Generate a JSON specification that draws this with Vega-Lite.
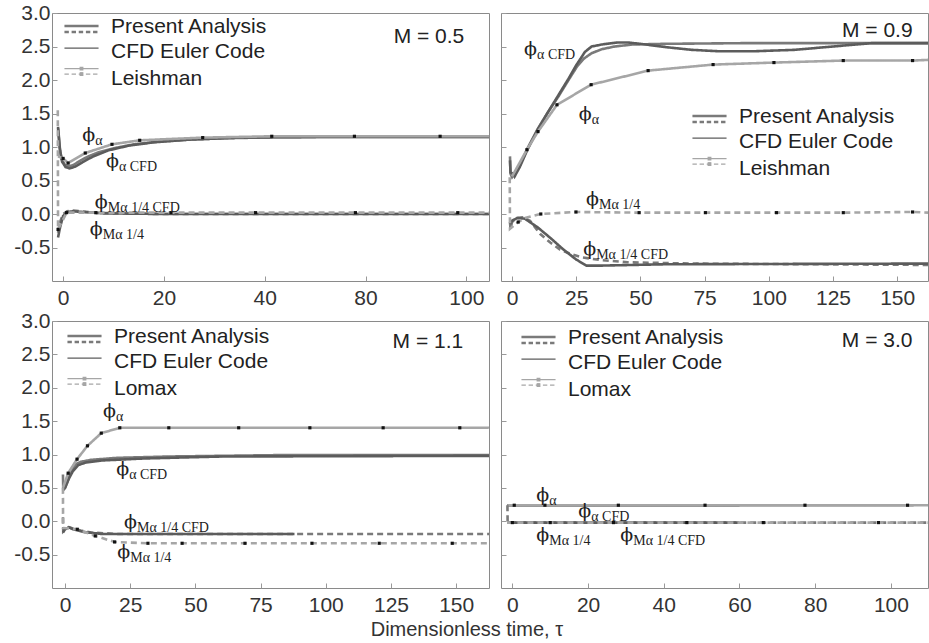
{
"$schema": "https://vega.github.io/schema/vega-lite/v6.json",
"padding": {"left": 13, "top": 1, "right": 0, "bottom": 0},
"background": "#ffffff",
"config": {
  "axis": {"labelFont": "Liberation Sans", "labelFontSize": 21, "labelColor": "#333333", "tickColor": "#999999", "domain": false, "grid": false, "tickSize": -5, "labelOverlap": false, "labelBound": false, "labelFlush": false, "labelSeparation": 0},
  "axisX": {"labelPadding": 11},
  "axisY": {"labelPadding": 7},
  "view": {"stroke": "#8a8a8a", "strokeWidth": 1},
  "legend": {"labelFont": "Liberation Sans", "labelFontSize": 21, "labelColor": "#222222", "symbolSize": 484, "symbolOffset": 6, "labelOffset": 19, "rowPadding": 2, "padding": 0, "orient": "none"},
  "title": {"font": "Liberation Sans", "fontSize": 20, "fontWeight": "normal", "color": "#333333"}
},
"title": {"text": "Dimensionless time, τ", "orient": "bottom", "anchor": "middle", "offset": 4, "dx": -4},
"datasets": {
"curves": [
{"p":1,"s":"PA_a","src":"Present Analysis","t":-1,"v":1.28},{"p":1,"s":"PA_a","src":"Present Analysis","t":-0.7,"v":1.0},{"p":1,"s":"PA_a","src":"Present Analysis","t":-0.3,"v":0.82},{"p":1,"s":"PA_a","src":"Present Analysis","t":0.3,"v":0.74},{"p":1,"s":"PA_a","src":"Present Analysis","t":1,"v":0.71},{"p":1,"s":"PA_a","src":"Present Analysis","t":2,"v":0.73},{"p":1,"s":"PA_a","src":"Present Analysis","t":3.5,"v":0.8},{"p":1,"s":"PA_a","src":"Present Analysis","t":5,"v":0.86},{"p":1,"s":"PA_a","src":"Present Analysis","t":7,"v":0.92},{"p":1,"s":"PA_a","src":"Present Analysis","t":10,"v":0.98},{"p":1,"s":"PA_a","src":"Present Analysis","t":14,"v":1.04},{"p":1,"s":"PA_a","src":"Present Analysis","t":19,"v":1.08},{"p":1,"s":"PA_a","src":"Present Analysis","t":25,"v":1.11},{"p":1,"s":"PA_a","src":"Present Analysis","t":32,"v":1.13},{"p":1,"s":"PA_a","src":"Present Analysis","t":42,"v":1.145},{"p":1,"s":"PA_a","src":"Present Analysis","t":55,"v":1.15},{"p":1,"s":"PA_a","src":"Present Analysis","t":84.5,"v":1.15},
{"p":1,"s":"CFD_a","src":"CFD Euler Code","t":-1,"v":1.3},{"p":1,"s":"CFD_a","src":"CFD Euler Code","t":-0.6,"v":0.95},{"p":1,"s":"CFD_a","src":"CFD Euler Code","t":-0.2,"v":0.78},{"p":1,"s":"CFD_a","src":"CFD Euler Code","t":0.5,"v":0.7},{"p":1,"s":"CFD_a","src":"CFD Euler Code","t":1.3,"v":0.68},{"p":1,"s":"CFD_a","src":"CFD Euler Code","t":2.5,"v":0.71},{"p":1,"s":"CFD_a","src":"CFD Euler Code","t":4,"v":0.78},{"p":1,"s":"CFD_a","src":"CFD Euler Code","t":6,"v":0.86},{"p":1,"s":"CFD_a","src":"CFD Euler Code","t":9,"v":0.95},{"p":1,"s":"CFD_a","src":"CFD Euler Code","t":13,"v":1.02},{"p":1,"s":"CFD_a","src":"CFD Euler Code","t":18,"v":1.07},{"p":1,"s":"CFD_a","src":"CFD Euler Code","t":25,"v":1.11},{"p":1,"s":"CFD_a","src":"CFD Euler Code","t":35,"v":1.14},{"p":1,"s":"CFD_a","src":"CFD Euler Code","t":50,"v":1.15},{"p":1,"s":"CFD_a","src":"CFD Euler Code","t":84.5,"v":1.15},
{"p":1,"s":"L_a","src":"Leishman","t":-1,"v":0.86},{"p":1,"s":"L_a","src":"Leishman","t":0,"v":0.83},{"p":1,"s":"L_a","src":"Leishman","t":1,"v":0.76},{"p":1,"s":"L_a","src":"Leishman","t":4.4,"v":0.91},{"p":1,"s":"L_a","src":"Leishman","t":9.7,"v":1.04},{"p":1,"s":"L_a","src":"Leishman","t":15.2,"v":1.1},{"p":1,"s":"L_a","src":"Leishman","t":27.7,"v":1.14},{"p":1,"s":"L_a","src":"Leishman","t":41.4,"v":1.16},{"p":1,"s":"L_a","src":"Leishman","t":57.8,"v":1.16},{"p":1,"s":"L_a","src":"Leishman","t":74.8,"v":1.16},{"p":1,"s":"L_a","src":"Leishman","t":84.5,"v":1.16},
{"p":1,"s":"PA_m","src":"Present Analysis","t":-1,"v":-0.28},{"p":1,"s":"PA_m","src":"Present Analysis","t":-0.6,"v":-0.12},{"p":1,"s":"PA_m","src":"Present Analysis","t":0,"v":0.0},{"p":1,"s":"PA_m","src":"Present Analysis","t":0.8,"v":0.04},{"p":1,"s":"PA_m","src":"Present Analysis","t":2,"v":0.05},{"p":1,"s":"PA_m","src":"Present Analysis","t":3.5,"v":0.04},{"p":1,"s":"PA_m","src":"Present Analysis","t":6,"v":0.02},{"p":1,"s":"PA_m","src":"Present Analysis","t":10,"v":0.01},{"p":1,"s":"PA_m","src":"Present Analysis","t":20,"v":0.0},{"p":1,"s":"PA_m","src":"Present Analysis","t":84.5,"v":0.0},
{"p":1,"s":"CFD_m","src":"CFD Euler Code","t":-1,"v":-0.35},{"p":1,"s":"CFD_m","src":"CFD Euler Code","t":-0.6,"v":-0.2},{"p":1,"s":"CFD_m","src":"CFD Euler Code","t":0,"v":-0.03},{"p":1,"s":"CFD_m","src":"CFD Euler Code","t":0.8,"v":0.03},{"p":1,"s":"CFD_m","src":"CFD Euler Code","t":2,"v":0.04},{"p":1,"s":"CFD_m","src":"CFD Euler Code","t":4,"v":0.03},{"p":1,"s":"CFD_m","src":"CFD Euler Code","t":8,"v":0.01},{"p":1,"s":"CFD_m","src":"CFD Euler Code","t":20,"v":0.0},{"p":1,"s":"CFD_m","src":"CFD Euler Code","t":84.5,"v":0.0},
{"p":1,"s":"L_m","src":"Leishman","t":-1.05,"v":1.55},{"p":1,"s":"L_m","src":"Leishman","t":-1,"v":-0.23},{"p":1,"s":"L_m","src":"Leishman","t":0.7,"v":0.02},{"p":1,"s":"L_m","src":"Leishman","t":6.5,"v":0.02},{"p":1,"s":"L_m","src":"Leishman","t":21.4,"v":0.02},{"p":1,"s":"L_m","src":"Leishman","t":38.2,"v":0.02},{"p":1,"s":"L_m","src":"Leishman","t":58,"v":0.02},{"p":1,"s":"L_m","src":"Leishman","t":78.3,"v":0.02},{"p":1,"s":"L_m","src":"Leishman","t":84.5,"v":0.02},

{"p":2,"s":"PA_a","src":"Present Analysis","t":-0.8,"v":0.86},{"p":2,"s":"PA_a","src":"Present Analysis","t":-0.6,"v":0.6},{"p":2,"s":"PA_a","src":"Present Analysis","t":0,"v":0.55},{"p":2,"s":"PA_a","src":"Present Analysis","t":3,"v":0.72},{"p":2,"s":"PA_a","src":"Present Analysis","t":6,"v":0.98},{"p":2,"s":"PA_a","src":"Present Analysis","t":10,"v":1.27},{"p":2,"s":"PA_a","src":"Present Analysis","t":14,"v":1.52},{"p":2,"s":"PA_a","src":"Present Analysis","t":18,"v":1.75},{"p":2,"s":"PA_a","src":"Present Analysis","t":22,"v":2.0},{"p":2,"s":"PA_a","src":"Present Analysis","t":25.3,"v":2.2},{"p":2,"s":"PA_a","src":"Present Analysis","t":28,"v":2.32},{"p":2,"s":"PA_a","src":"Present Analysis","t":31,"v":2.4},{"p":2,"s":"PA_a","src":"Present Analysis","t":35,"v":2.46},{"p":2,"s":"PA_a","src":"Present Analysis","t":40,"v":2.5},{"p":2,"s":"PA_a","src":"Present Analysis","t":47,"v":2.53},{"p":2,"s":"PA_a","src":"Present Analysis","t":60,"v":2.54},{"p":2,"s":"PA_a","src":"Present Analysis","t":90,"v":2.55},{"p":2,"s":"PA_a","src":"Present Analysis","t":162,"v":2.55},
{"p":2,"s":"CFD_a","src":"CFD Euler Code","t":-0.8,"v":0.8},{"p":2,"s":"CFD_a","src":"CFD Euler Code","t":-0.6,"v":0.62},{"p":2,"s":"CFD_a","src":"CFD Euler Code","t":0.5,"v":0.6},{"p":2,"s":"CFD_a","src":"CFD Euler Code","t":1,"v":0.56},{"p":2,"s":"CFD_a","src":"CFD Euler Code","t":3,"v":0.7},{"p":2,"s":"CFD_a","src":"CFD Euler Code","t":6,"v":0.96},{"p":2,"s":"CFD_a","src":"CFD Euler Code","t":10,"v":1.26},{"p":2,"s":"CFD_a","src":"CFD Euler Code","t":14,"v":1.52},{"p":2,"s":"CFD_a","src":"CFD Euler Code","t":18,"v":1.77},{"p":2,"s":"CFD_a","src":"CFD Euler Code","t":22,"v":2.02},{"p":2,"s":"CFD_a","src":"CFD Euler Code","t":25,"v":2.22},{"p":2,"s":"CFD_a","src":"CFD Euler Code","t":28.4,"v":2.42},{"p":2,"s":"CFD_a","src":"CFD Euler Code","t":31,"v":2.5},{"p":2,"s":"CFD_a","src":"CFD Euler Code","t":35,"v":2.53},{"p":2,"s":"CFD_a","src":"CFD Euler Code","t":41,"v":2.56},{"p":2,"s":"CFD_a","src":"CFD Euler Code","t":45,"v":2.56},{"p":2,"s":"CFD_a","src":"CFD Euler Code","t":50,"v":2.54},{"p":2,"s":"CFD_a","src":"CFD Euler Code","t":60,"v":2.49},{"p":2,"s":"CFD_a","src":"CFD Euler Code","t":70,"v":2.45},{"p":2,"s":"CFD_a","src":"CFD Euler Code","t":80,"v":2.43},{"p":2,"s":"CFD_a","src":"CFD Euler Code","t":95,"v":2.43},{"p":2,"s":"CFD_a","src":"CFD Euler Code","t":110,"v":2.45},{"p":2,"s":"CFD_a","src":"CFD Euler Code","t":125,"v":2.5},{"p":2,"s":"CFD_a","src":"CFD Euler Code","t":140,"v":2.55},{"p":2,"s":"CFD_a","src":"CFD Euler Code","t":162,"v":2.55},
{"p":2,"s":"L_a","src":"Leishman","t":0,"v":0.56},{"p":2,"s":"L_a","src":"Leishman","t":5.8,"v":0.96},{"p":2,"s":"L_a","src":"Leishman","t":10.1,"v":1.23},{"p":2,"s":"L_a","src":"Leishman","t":17.5,"v":1.63},{"p":2,"s":"L_a","src":"Leishman","t":30.8,"v":1.93},{"p":2,"s":"L_a","src":"Leishman","t":53,"v":2.14},{"p":2,"s":"L_a","src":"Leishman","t":78.3,"v":2.23},{"p":2,"s":"L_a","src":"Leishman","t":102,"v":2.26},{"p":2,"s":"L_a","src":"Leishman","t":129,"v":2.29},{"p":2,"s":"L_a","src":"Leishman","t":156,"v":2.29},{"p":2,"s":"L_a","src":"Leishman","t":162,"v":2.3},
{"p":2,"s":"PA_m","src":"Present Analysis","t":-0.8,"v":-0.12},{"p":2,"s":"PA_m","src":"Present Analysis","t":-0.6,"v":-0.22},{"p":2,"s":"PA_m","src":"Present Analysis","t":0,"v":-0.12},{"p":2,"s":"PA_m","src":"Present Analysis","t":2,"v":-0.06},{"p":2,"s":"PA_m","src":"Present Analysis","t":4,"v":-0.05},{"p":2,"s":"PA_m","src":"Present Analysis","t":7,"v":-0.1},{"p":2,"s":"PA_m","src":"Present Analysis","t":11,"v":-0.3},{"p":2,"s":"PA_m","src":"Present Analysis","t":15,"v":-0.43},{"p":2,"s":"PA_m","src":"Present Analysis","t":18.7,"v":-0.53},{"p":2,"s":"PA_m","src":"Present Analysis","t":23,"v":-0.6},{"p":2,"s":"PA_m","src":"Present Analysis","t":27.6,"v":-0.65},{"p":2,"s":"PA_m","src":"Present Analysis","t":35,"v":-0.69},{"p":2,"s":"PA_m","src":"Present Analysis","t":45,"v":-0.72},{"p":2,"s":"PA_m","src":"Present Analysis","t":70,"v":-0.74},{"p":2,"s":"PA_m","src":"Present Analysis","t":162,"v":-0.76},
{"p":2,"s":"CFD_m","src":"CFD Euler Code","t":-0.8,"v":-0.15},{"p":2,"s":"CFD_m","src":"CFD Euler Code","t":0,"v":-0.1},{"p":2,"s":"CFD_m","src":"CFD Euler Code","t":2,"v":-0.06},{"p":2,"s":"CFD_m","src":"CFD Euler Code","t":5,"v":-0.07},{"p":2,"s":"CFD_m","src":"CFD Euler Code","t":10,"v":-0.2},{"p":2,"s":"CFD_m","src":"CFD Euler Code","t":15,"v":-0.36},{"p":2,"s":"CFD_m","src":"CFD Euler Code","t":20,"v":-0.53},{"p":2,"s":"CFD_m","src":"CFD Euler Code","t":25,"v":-0.68},{"p":2,"s":"CFD_m","src":"CFD Euler Code","t":29,"v":-0.77},{"p":2,"s":"CFD_m","src":"CFD Euler Code","t":35,"v":-0.77},{"p":2,"s":"CFD_m","src":"CFD Euler Code","t":60,"v":-0.75},{"p":2,"s":"CFD_m","src":"CFD Euler Code","t":162,"v":-0.74},
{"p":2,"s":"L_m","src":"Leishman","t":-0.9,"v":0.55},{"p":2,"s":"L_m","src":"Leishman","t":-0.8,"v":-0.22},{"p":2,"s":"L_m","src":"Leishman","t":2.4,"v":-0.12},{"p":2,"s":"L_m","src":"Leishman","t":5,"v":-0.06},{"p":2,"s":"L_m","src":"Leishman","t":11.2,"v":0.0},{"p":2,"s":"L_m","src":"Leishman","t":24.9,"v":0.03},{"p":2,"s":"L_m","src":"Leishman","t":49.5,"v":0.02},{"p":2,"s":"L_m","src":"Leishman","t":75.3,"v":0.02},{"p":2,"s":"L_m","src":"Leishman","t":103,"v":0.02},{"p":2,"s":"L_m","src":"Leishman","t":129,"v":0.02},{"p":2,"s":"L_m","src":"Leishman","t":156,"v":0.03},{"p":2,"s":"L_m","src":"Leishman","t":162,"v":0.02},

{"p":3,"s":"PA_a","src":"Present Analysis","t":-0.8,"v":0.7},{"p":3,"s":"PA_a","src":"Present Analysis","t":-0.7,"v":0.49},{"p":3,"s":"PA_a","src":"Present Analysis","t":0,"v":0.5},{"p":3,"s":"PA_a","src":"Present Analysis","t":1,"v":0.6},{"p":3,"s":"PA_a","src":"Present Analysis","t":2.4,"v":0.76},{"p":3,"s":"PA_a","src":"Present Analysis","t":4,"v":0.85},{"p":3,"s":"PA_a","src":"Present Analysis","t":6,"v":0.89},{"p":3,"s":"PA_a","src":"Present Analysis","t":10,"v":0.92},{"p":3,"s":"PA_a","src":"Present Analysis","t":20,"v":0.95},{"p":3,"s":"PA_a","src":"Present Analysis","t":40,"v":0.97},{"p":3,"s":"PA_a","src":"Present Analysis","t":80,"v":0.99},{"p":3,"s":"PA_a","src":"Present Analysis","t":162.6,"v":0.99},
{"p":3,"s":"CFD_a","src":"CFD Euler Code","t":-0.8,"v":0.46},{"p":3,"s":"CFD_a","src":"CFD Euler Code","t":0,"v":0.5},{"p":3,"s":"CFD_a","src":"CFD Euler Code","t":1.5,"v":0.64},{"p":3,"s":"CFD_a","src":"CFD Euler Code","t":3,"v":0.75},{"p":3,"s":"CFD_a","src":"CFD Euler Code","t":5,"v":0.84},{"p":3,"s":"CFD_a","src":"CFD Euler Code","t":8,"v":0.88},{"p":3,"s":"CFD_a","src":"CFD Euler Code","t":14,"v":0.91},{"p":3,"s":"CFD_a","src":"CFD Euler Code","t":30,"v":0.94},{"p":3,"s":"CFD_a","src":"CFD Euler Code","t":60,"v":0.97},{"p":3,"s":"CFD_a","src":"CFD Euler Code","t":162.6,"v":0.98},
{"p":3,"s":"L_a","src":"Lomax","t":-0.8,"v":0.5},{"p":3,"s":"L_a","src":"Lomax","t":1.2,"v":0.72},{"p":3,"s":"L_a","src":"Lomax","t":4.6,"v":0.93},{"p":3,"s":"L_a","src":"Lomax","t":8.6,"v":1.13},{"p":3,"s":"L_a","src":"Lomax","t":13.9,"v":1.32},{"p":3,"s":"L_a","src":"Lomax","t":21,"v":1.4},{"p":3,"s":"L_a","src":"Lomax","t":39.8,"v":1.4},{"p":3,"s":"L_a","src":"Lomax","t":66.6,"v":1.4},{"p":3,"s":"L_a","src":"Lomax","t":93.9,"v":1.4},{"p":3,"s":"L_a","src":"Lomax","t":122,"v":1.4},{"p":3,"s":"L_a","src":"Lomax","t":151.4,"v":1.4},{"p":3,"s":"L_a","src":"Lomax","t":162.6,"v":1.4},
{"p":3,"s":"PA_m","src":"Present Analysis","t":-0.8,"v":0.06},{"p":3,"s":"PA_m","src":"Present Analysis","t":-0.7,"v":-0.15},{"p":3,"s":"PA_m","src":"Present Analysis","t":0,"v":-0.12},{"p":3,"s":"PA_m","src":"Present Analysis","t":1.5,"v":-0.09},{"p":3,"s":"PA_m","src":"Present Analysis","t":3,"v":-0.11},{"p":3,"s":"PA_m","src":"Present Analysis","t":6,"v":-0.14},{"p":3,"s":"PA_m","src":"Present Analysis","t":10,"v":-0.17},{"p":3,"s":"PA_m","src":"Present Analysis","t":20,"v":-0.19},{"p":3,"s":"PA_m","src":"Present Analysis","t":162.6,"v":-0.19},
{"p":3,"s":"CFD_m","src":"CFD Euler Code","t":-0.8,"v":-0.17},{"p":3,"s":"CFD_m","src":"CFD Euler Code","t":0,"v":-0.12},{"p":3,"s":"CFD_m","src":"CFD Euler Code","t":1.5,"v":-0.09},{"p":3,"s":"CFD_m","src":"CFD Euler Code","t":3,"v":-0.12},{"p":3,"s":"CFD_m","src":"CFD Euler Code","t":7,"v":-0.16},{"p":3,"s":"CFD_m","src":"CFD Euler Code","t":14,"v":-0.19},{"p":3,"s":"CFD_m","src":"CFD Euler Code","t":30,"v":-0.19},{"p":3,"s":"CFD_m","src":"CFD Euler Code","t":88,"v":-0.19},
{"p":3,"s":"L_m","src":"Lomax","t":-0.8,"v":0.5},{"p":3,"s":"L_m","src":"Lomax","t":-0.75,"v":-0.1},{"p":3,"s":"L_m","src":"Lomax","t":4.7,"v":-0.12},{"p":3,"s":"L_m","src":"Lomax","t":11.6,"v":-0.22},{"p":3,"s":"L_m","src":"Lomax","t":19,"v":-0.31},{"p":3,"s":"L_m","src":"Lomax","t":31.8,"v":-0.33},{"p":3,"s":"L_m","src":"Lomax","t":44.9,"v":-0.33},{"p":3,"s":"L_m","src":"Lomax","t":69,"v":-0.33},{"p":3,"s":"L_m","src":"Lomax","t":94.7,"v":-0.33},{"p":3,"s":"L_m","src":"Lomax","t":120.5,"v":-0.33},{"p":3,"s":"L_m","src":"Lomax","t":148.5,"v":-0.33},{"p":3,"s":"L_m","src":"Lomax","t":162.6,"v":-0.33},

{"p":4,"s":"PA_a","src":"Present Analysis","t":-1.3,"v":0.24},{"p":4,"s":"PA_a","src":"Present Analysis","t":106,"v":0.24},
{"p":4,"s":"CFD_a","src":"CFD Euler Code","t":-1.3,"v":0.24},{"p":4,"s":"CFD_a","src":"CFD Euler Code","t":60,"v":0.24},
{"p":4,"s":"L_a","src":"Lomax","t":-1.3,"v":0.24},{"p":4,"s":"L_a","src":"Lomax","t":109.8,"v":0.24},
{"p":4,"s":"PA_m","src":"Present Analysis","t":-1.3,"v":0.24},{"p":4,"s":"PA_m","src":"Present Analysis","t":-1.25,"v":-0.02},{"p":4,"s":"PA_m","src":"Present Analysis","t":109.8,"v":-0.02},
{"p":4,"s":"CFD_m","src":"CFD Euler Code","t":-1.3,"v":-0.02},{"p":4,"s":"CFD_m","src":"CFD Euler Code","t":60,"v":-0.02},
{"p":4,"s":"L_m","src":"Lomax","t":-1.3,"v":-0.02},{"p":4,"s":"L_m","src":"Lomax","t":109.8,"v":-0.02}
],
"pts": [
{"p":1,"t":0,"v":0.83},{"p":1,"t":1,"v":0.76},{"p":1,"t":4.4,"v":0.91},{"p":1,"t":9.7,"v":1.04},{"p":1,"t":15.2,"v":1.1},{"p":1,"t":27.7,"v":1.14},{"p":1,"t":41.4,"v":1.16},{"p":1,"t":57.8,"v":1.16},{"p":1,"t":74.8,"v":1.16},
{"p":1,"t":-1,"v":-0.23},{"p":1,"t":0.7,"v":0.02},{"p":1,"t":6.5,"v":0.02},{"p":1,"t":21.4,"v":0.02},{"p":1,"t":38.2,"v":0.02},{"p":1,"t":58,"v":0.02},{"p":1,"t":78.3,"v":0.02},
{"p":2,"t":5.8,"v":0.96},{"p":2,"t":10.1,"v":1.23},{"p":2,"t":17.5,"v":1.63},{"p":2,"t":30.8,"v":1.93},{"p":2,"t":53,"v":2.14},{"p":2,"t":78.3,"v":2.23},{"p":2,"t":102,"v":2.26},{"p":2,"t":129,"v":2.29},{"p":2,"t":156,"v":2.29},
{"p":2,"t":2.4,"v":-0.12},{"p":2,"t":11.2,"v":0.0},{"p":2,"t":24.9,"v":0.03},{"p":2,"t":49.5,"v":0.02},{"p":2,"t":75.3,"v":0.02},{"p":2,"t":103,"v":0.02},{"p":2,"t":129,"v":0.02},{"p":2,"t":156,"v":0.03},
{"p":3,"t":1.2,"v":0.72},{"p":3,"t":4.6,"v":0.93},{"p":3,"t":8.6,"v":1.13},{"p":3,"t":13.9,"v":1.32},{"p":3,"t":21,"v":1.4},{"p":3,"t":39.8,"v":1.4},{"p":3,"t":66.6,"v":1.4},{"p":3,"t":93.9,"v":1.4},{"p":3,"t":122,"v":1.4},{"p":3,"t":151.4,"v":1.4},
{"p":3,"t":4.7,"v":-0.12},{"p":3,"t":11.6,"v":-0.22},{"p":3,"t":19,"v":-0.31},{"p":3,"t":31.8,"v":-0.33},{"p":3,"t":44.9,"v":-0.33},{"p":3,"t":69,"v":-0.33},{"p":3,"t":94.7,"v":-0.33},{"p":3,"t":120.5,"v":-0.33},{"p":3,"t":148.5,"v":-0.33},
{"p":4,"t":0.5,"v":0.24},{"p":4,"t":8.6,"v":0.24},{"p":4,"t":28,"v":0.24},{"p":4,"t":50.9,"v":0.24},{"p":4,"t":77.3,"v":0.24},{"p":4,"t":104.4,"v":0.24},
{"p":4,"t":0,"v":-0.02},{"p":4,"t":10,"v":-0.02},{"p":4,"t":26.7,"v":-0.02},{"p":4,"t":46.1,"v":-0.02},{"p":4,"t":66.3,"v":-0.02},{"p":4,"t":96.7,"v":-0.02}
],
"ann": [
{"p":1,"t":3.8,"v":1.18,"sub":"α"},{"p":1,"t":8.5,"v":0.79,"sub":"α CFD"},{"p":1,"t":6.3,"v":0.18,"sub":"Mα 1/4 CFD"},{"p":1,"t":5.3,"v":-0.22,"sub":"Mα 1/4"},
{"p":2,"t":4.7,"v":2.47,"sub":"α CFD"},{"p":2,"t":26,"v":1.5,"sub":"α"},{"p":2,"t":28.8,"v":0.23,"sub":"Mα 1/4"},{"p":2,"t":27.7,"v":-0.52,"sub":"Mα 1/4 CFD"},
{"p":3,"t":14.6,"v":1.65,"sub":"α"},{"p":3,"t":19.6,"v":0.79,"sub":"α CFD"},{"p":3,"t":22.6,"v":-0.01,"sub":"Mα 1/4 CFD"},{"p":3,"t":20,"v":-0.46,"sub":"Mα 1/4"},
{"p":4,"t":6.3,"v":0.4,"sub":"α"},{"p":4,"t":17.4,"v":0.16,"sub":"α CFD"},{"p":4,"t":6.3,"v":-0.21,"sub":"Mα 1/4"},{"p":4,"t":28.5,"v":-0.21,"sub":"Mα 1/4 CFD"}
],
"ttl": [
{"p":1,"t":79.6,"v":2.64,"label":"M = 0.5"},{"p":2,"t":156,"v":2.73,"label":"M = 0.9"},{"p":3,"t":152.7,"v":2.68,"label":"M = 1.1"},{"p":4,"t":105.7,"v":2.7,"label":"M = 3.0"}
]
},
"concat": [
{"width": 437, "height": 268,
 "encoding": {
  "x": {"field": "t", "type": "quantitative", "scale": {"domain": [-2.2, 84.5], "nice": false, "zero": false}, "axis": {"title": null, "values": [0,20,40,60,80], "labelExpr": "datum.value == 60 ? '80' : datum.value == 80 ? '100' : datum.label"}},
  "y": {"field": "v", "type": "quantitative", "scale": {"domain": [-1, 3], "nice": false, "zero": false}, "axis": {"title": null, "values": [-0.5,0,0.5,1,1.5,2,2.5,3], "labelExpr": "datum.value == -0.5 ? '-0.5' : datum.value == 0 ? '0.0' : datum.value == 1 ? '1.0' : datum.value == 2 ? '2.0' : datum.value == 3 ? '3.0' : datum.label"}}
 },
 "layer": [
  {"data": {"name": "curves"}, "transform": [{"filter": "datum.p == 1"}], "mark": {"type": "line", "clip": true, "strokeCap": "butt"},
   "encoding": {
    "color": {"field": "src", "type": "nominal", "scale": {"domain": ["Present Analysis","CFD Euler Code","Leishman"], "range": ["#7a7a7a","#5c5c5c","#a6a6a6"]},
      "legend": {"title": null, "legendX": 13, "legendY": 3,
        "encode": {"symbols": {"update": {
          "shape": {"signal": "datum.value == 'Present Analysis' ? 'M-1.55,-0.05H1.55M-1.55,0.5H-1.15M-0.9,0.5H-0.5M-0.25,0.5H0.15M0.4,0.5H0.8M1.05,0.5H1.45' : datum.value == 'CFD Euler Code' ? 'M-1.55,-0.3H1.55' : 'M-1.55,-0.9H1.55M-1.55,-0.4H-1.15M-0.9,-0.4H-0.5M-0.25,-0.4H0.15M0.4,-0.4H0.8M1.05,-0.4H1.45M-0.12,-1.02h0.24v0.24h-0.24zM-0.12,-0.52h0.24v0.24h-0.24z'"},
          "strokeWidth": {"signal": "datum.value == 'Present Analysis' ? 2.6 : 1.2"},
          "fill": {"signal": "datum.value == 'Present Analysis' || datum.value == 'CFD Euler Code' ? 'transparent' : '#111111'"},
          "fillOpacity": {"value": 1}}}}}},
    "strokeDash": {"field": "s", "type": "nominal", "scale": {"domain": ["PA_a","PA_m","CFD_a","CFD_m","L_a","L_m"], "range": [[1,0],[6,4],[1,0],[1,0],[1,0],[6,4]]}, "legend": null},
    "strokeWidth": {"field": "s", "type": "ordinal", "scale": {"domain": ["PA_a","PA_m","CFD_a","CFD_m","L_a","L_m"], "range": [2.6,2.6,1.2,1.2,1.1,1.1]}, "legend": null}
   }},
  {"data": {"name": "pts"}, "transform": [{"filter": "datum.p == 1"}], "mark": {"type": "square", "size": 10, "color": "#111111", "opacity": 1}},
  {"data": {"name": "ann"}, "transform": [{"filter": "datum.p == 1"}], "mark": {"type": "text", "font": "DejaVu Serif", "fontSize": 19, "align": "left", "baseline": "middle", "color": "#222222"}, "encoding": {"text": {"value": "ϕ"}}},
  {"data": {"name": "ann"}, "transform": [{"filter": "datum.p == 1"}], "mark": {"type": "text", "font": "Liberation Serif", "fontSize": 14, "align": "left", "baseline": "middle", "dx": 13, "dy": 6, "color": "#222222"}, "encoding": {"text": {"field": "sub"}}},
  {"data": {"name": "ttl"}, "transform": [{"filter": "datum.p == 1"}], "mark": {"type": "text", "font": "Liberation Sans", "fontSize": 21, "align": "right", "baseline": "middle", "color": "#222222"}, "encoding": {"text": {"field": "label"}}}
 ]},
{"width": 427, "height": 268,
 "encoding": {
  "x": {"field": "t", "type": "quantitative", "scale": {"domain": [-4.3, 162], "nice": false, "zero": false}, "axis": {"title": null, "values": [0,25,50,75,100,125,150]}},
  "y": {"field": "v", "type": "quantitative", "scale": {"domain": [-1, 3], "nice": false, "zero": false}, "axis": {"title": null, "values": [-0.5,0,0.5,1,1.5,2,2.5,3], "labels": false}}
 },
 "layer": [
  {"data": {"name": "curves"}, "transform": [{"filter": "datum.p == 2"}], "mark": {"type": "line", "clip": true, "strokeCap": "butt"},
   "encoding": {
    "color": {"field": "src", "type": "nominal", "scale": {"domain": ["Present Analysis","CFD Euler Code","Leishman"], "range": ["#7a7a7a","#5c5c5c","#a6a6a6"]},
      "legend": {"title": null, "legendX": 192, "legendY": 93,
        "encode": {"symbols": {"update": {
          "shape": {"signal": "datum.value == 'Present Analysis' ? 'M-1.55,-0.05H1.55M-1.55,0.5H-1.15M-0.9,0.5H-0.5M-0.25,0.5H0.15M0.4,0.5H0.8M1.05,0.5H1.45' : datum.value == 'CFD Euler Code' ? 'M-1.55,-0.3H1.55' : 'M-1.55,-0.9H1.55M-1.55,-0.4H-1.15M-0.9,-0.4H-0.5M-0.25,-0.4H0.15M0.4,-0.4H0.8M1.05,-0.4H1.45M-0.12,-1.02h0.24v0.24h-0.24zM-0.12,-0.52h0.24v0.24h-0.24z'"},
          "strokeWidth": {"signal": "datum.value == 'Present Analysis' ? 2.6 : 1.2"},
          "fill": {"signal": "datum.value == 'Present Analysis' || datum.value == 'CFD Euler Code' ? 'transparent' : '#111111'"},
          "fillOpacity": {"value": 1}}}}}},
    "strokeDash": {"field": "s", "type": "nominal", "scale": {"domain": ["PA_a","PA_m","CFD_a","CFD_m","L_a","L_m"], "range": [[1,0],[6,4],[1,0],[1,0],[1,0],[6,4]]}, "legend": null},
    "strokeWidth": {"field": "s", "type": "ordinal", "scale": {"domain": ["PA_a","PA_m","CFD_a","CFD_m","L_a","L_m"], "range": [2.6,2.6,1.2,1.2,1.1,1.1]}, "legend": null}
   }},
  {"data": {"name": "pts"}, "transform": [{"filter": "datum.p == 2"}], "mark": {"type": "square", "size": 10, "color": "#111111", "opacity": 1}},
  {"data": {"name": "ann"}, "transform": [{"filter": "datum.p == 2"}], "mark": {"type": "text", "font": "DejaVu Serif", "fontSize": 19, "align": "left", "baseline": "middle", "color": "#222222"}, "encoding": {"text": {"value": "ϕ"}}},
  {"data": {"name": "ann"}, "transform": [{"filter": "datum.p == 2"}], "mark": {"type": "text", "font": "Liberation Serif", "fontSize": 14, "align": "left", "baseline": "middle", "dx": 13, "dy": 6, "color": "#222222"}, "encoding": {"text": {"field": "sub"}}},
  {"data": {"name": "ttl"}, "transform": [{"filter": "datum.p == 2"}], "mark": {"type": "text", "font": "Liberation Sans", "fontSize": 21, "align": "right", "baseline": "middle", "color": "#222222"}, "encoding": {"text": {"field": "label"}}}
 ]},
{"width": 437, "height": 267,
 "encoding": {
  "x": {"field": "t", "type": "quantitative", "scale": {"domain": [-5, 162.6], "nice": false, "zero": false}, "axis": {"title": null, "values": [0,25,50,75,100,125,150]}},
  "y": {"field": "v", "type": "quantitative", "scale": {"domain": [-1, 3], "nice": false, "zero": false}, "axis": {"title": null, "values": [-0.5,0,0.5,1,1.5,2,2.5,3], "labelExpr": "datum.value == -0.5 ? '-0.5' : datum.value == 0 ? '0.0' : datum.value == 1 ? '1.0' : datum.value == 2 ? '2.0' : datum.value == 3 ? '3.0' : datum.label"}}
 },
 "layer": [
  {"data": {"name": "curves"}, "transform": [{"filter": "datum.p == 3"}], "mark": {"type": "line", "clip": true, "strokeCap": "butt"},
   "encoding": {
    "color": {"field": "src", "type": "nominal", "scale": {"domain": ["Present Analysis","CFD Euler Code","Lomax"], "range": ["#7a7a7a","#5c5c5c","#a6a6a6"]},
      "legend": {"title": null, "legendX": 16, "legendY": 5,
        "encode": {"symbols": {"update": {
          "shape": {"signal": "datum.value == 'Present Analysis' ? 'M-1.55,-0.05H1.55M-1.55,0.5H-1.15M-0.9,0.5H-0.5M-0.25,0.5H0.15M0.4,0.5H0.8M1.05,0.5H1.45' : datum.value == 'CFD Euler Code' ? 'M-1.55,-0.3H1.55' : 'M-1.55,-0.9H1.55M-1.55,-0.4H-1.15M-0.9,-0.4H-0.5M-0.25,-0.4H0.15M0.4,-0.4H0.8M1.05,-0.4H1.45M-0.12,-1.02h0.24v0.24h-0.24zM-0.12,-0.52h0.24v0.24h-0.24z'"},
          "strokeWidth": {"signal": "datum.value == 'Present Analysis' ? 2.6 : 1.2"},
          "fill": {"signal": "datum.value == 'Present Analysis' || datum.value == 'CFD Euler Code' ? 'transparent' : '#111111'"},
          "fillOpacity": {"value": 1}}}}}},
    "strokeDash": {"field": "s", "type": "nominal", "scale": {"domain": ["PA_a","PA_m","CFD_a","CFD_m","L_a","L_m"], "range": [[1,0],[6,4],[1,0],[1,0],[1,0],[6,4]]}, "legend": null},
    "strokeWidth": {"field": "s", "type": "ordinal", "scale": {"domain": ["PA_a","PA_m","CFD_a","CFD_m","L_a","L_m"], "range": [2.6,2.6,1.2,1.2,1.1,1.1]}, "legend": null}
   }},
  {"data": {"name": "pts"}, "transform": [{"filter": "datum.p == 3"}], "mark": {"type": "square", "size": 10, "color": "#111111", "opacity": 1}},
  {"data": {"name": "ann"}, "transform": [{"filter": "datum.p == 3"}], "mark": {"type": "text", "font": "DejaVu Serif", "fontSize": 19, "align": "left", "baseline": "middle", "color": "#222222"}, "encoding": {"text": {"value": "ϕ"}}},
  {"data": {"name": "ann"}, "transform": [{"filter": "datum.p == 3"}], "mark": {"type": "text", "font": "Liberation Serif", "fontSize": 14, "align": "left", "baseline": "middle", "dx": 13, "dy": 6, "color": "#222222"}, "encoding": {"text": {"field": "sub"}}},
  {"data": {"name": "ttl"}, "transform": [{"filter": "datum.p == 3"}], "mark": {"type": "text", "font": "Liberation Sans", "fontSize": 21, "align": "right", "baseline": "middle", "color": "#222222"}, "encoding": {"text": {"field": "label"}}}
 ]},
{"width": 427, "height": 267,
 "encoding": {
  "x": {"field": "t", "type": "quantitative", "scale": {"domain": [-3, 109.8], "nice": false, "zero": false}, "axis": {"title": null, "values": [0,20,40,60,80,100]}},
  "y": {"field": "v", "type": "quantitative", "scale": {"domain": [-1, 3], "nice": false, "zero": false}, "axis": {"title": null, "values": [-0.5,0,0.5,1,1.5,2,2.5,3], "labels": false}}
 },
 "layer": [
  {"data": {"name": "curves"}, "transform": [{"filter": "datum.p == 4"}], "mark": {"type": "line", "clip": true, "strokeCap": "butt"},
   "encoding": {
    "color": {"field": "src", "type": "nominal", "scale": {"domain": ["Present Analysis","CFD Euler Code","Lomax"], "range": ["#7a7a7a","#5c5c5c","#a6a6a6"]},
      "legend": {"title": null, "legendX": 21, "legendY": 6,
        "encode": {"symbols": {"update": {
          "shape": {"signal": "datum.value == 'Present Analysis' ? 'M-1.55,-0.05H1.55M-1.55,0.5H-1.15M-0.9,0.5H-0.5M-0.25,0.5H0.15M0.4,0.5H0.8M1.05,0.5H1.45' : datum.value == 'CFD Euler Code' ? 'M-1.55,-0.3H1.55' : 'M-1.55,-0.9H1.55M-1.55,-0.4H-1.15M-0.9,-0.4H-0.5M-0.25,-0.4H0.15M0.4,-0.4H0.8M1.05,-0.4H1.45M-0.12,-1.02h0.24v0.24h-0.24zM-0.12,-0.52h0.24v0.24h-0.24z'"},
          "strokeWidth": {"signal": "datum.value == 'Present Analysis' ? 2.6 : 1.2"},
          "fill": {"signal": "datum.value == 'Present Analysis' || datum.value == 'CFD Euler Code' ? 'transparent' : '#111111'"},
          "fillOpacity": {"value": 1}}}}}},
    "strokeDash": {"field": "s", "type": "nominal", "scale": {"domain": ["PA_a","PA_m","CFD_a","CFD_m","L_a","L_m"], "range": [[1,0],[6,4],[1,0],[1,0],[1,0],[6,4]]}, "legend": null},
    "strokeWidth": {"field": "s", "type": "ordinal", "scale": {"domain": ["PA_a","PA_m","CFD_a","CFD_m","L_a","L_m"], "range": [2.6,2.6,1.2,1.2,1.1,1.1]}, "legend": null}
   }},
  {"data": {"name": "pts"}, "transform": [{"filter": "datum.p == 4"}], "mark": {"type": "square", "size": 10, "color": "#111111", "opacity": 1}},
  {"data": {"name": "ann"}, "transform": [{"filter": "datum.p == 4"}], "mark": {"type": "text", "font": "DejaVu Serif", "fontSize": 19, "align": "left", "baseline": "middle", "color": "#222222"}, "encoding": {"text": {"value": "ϕ"}}},
  {"data": {"name": "ann"}, "transform": [{"filter": "datum.p == 4"}], "mark": {"type": "text", "font": "Liberation Serif", "fontSize": 14, "align": "left", "baseline": "middle", "dx": 13, "dy": 6, "color": "#222222"}, "encoding": {"text": {"field": "sub"}}},
  {"data": {"name": "ttl"}, "transform": [{"filter": "datum.p == 4"}], "mark": {"type": "text", "font": "Liberation Sans", "fontSize": 21, "align": "right", "baseline": "middle", "color": "#222222"}, "encoding": {"text": {"field": "label"}}}
 ]}
],
"columns": 2,
"spacing": {"row": 40, "column": 12},
"bounds": "flush",
"resolve": {"scale": {"x": "independent", "y": "independent", "color": "independent", "strokeDash": "independent", "strokeWidth": "independent"}, "legend": {"color": "independent"}, "axis": {"x": "independent", "y": "independent"}}
}
